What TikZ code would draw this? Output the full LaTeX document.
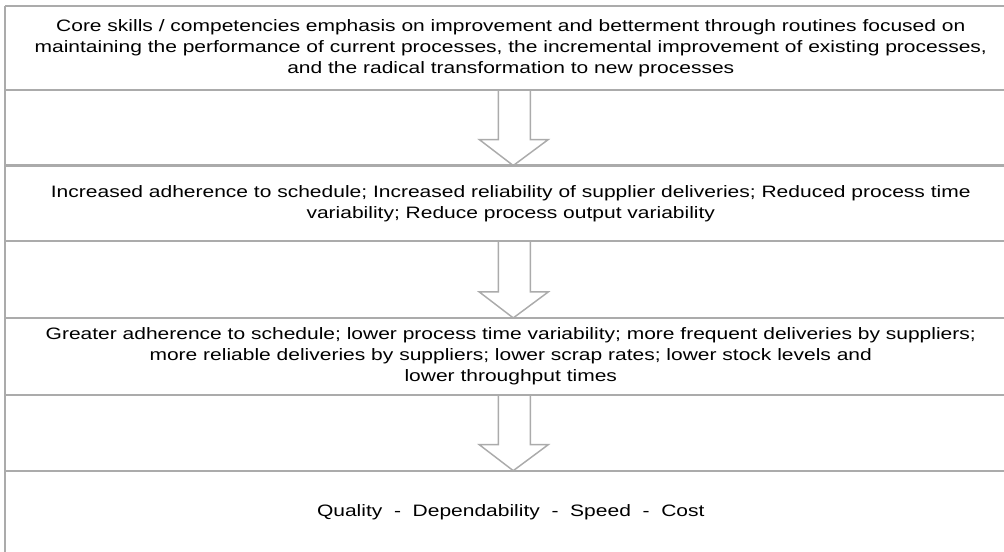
\documentclass[tikz,border=0pt]{standalone}
\usepackage{fontspec}
\setmainfont{Liberation Sans}[FakeStretch=1.27]
\usetikzlibrary{positioning,calc}

\definecolor{rulegray}{HTML}{ABABAB}

\begin{document}
\begin{tikzpicture}[
  x=0.75pt, y=0.75pt,
  node distance=0pt,
  band/.style={minimum width=758.25pt, minimum height=#1, inner sep=0pt, align=center, anchor=north west},
  rule/.style={draw=rulegray, line width=1.6pt},
  blockarrow/.style={draw=rulegray, line width=1.1pt},
  font=\fontsize{12.4}{15.75}\selectfont
]
  \useasboundingbox (0,0) rectangle (1004,-551);

  % text bands and the empty bands holding the arrows
  \node[band=62.6pt] (skills) at (5,-6) {Core skills / competencies emphasis on improvement and betterment through routines focused on\\maintaining the performance of current processes, the incremental improvement of existing processes,\\and the radical transformation to new processes};
  \node[band=56.25pt, below=of skills] (gap1) {};
  \node[band=56.25pt, below=of gap1] (outcomes) {Increased adherence to schedule; Increased reliability of supplier deliveries; Reduced process time\\variability; Reduce process output variability};
  \node[band=57.25pt, below=of outcomes] (gap2) {};
  \node[band=57.25pt, below=of gap2] (effects) {Greater adherence to schedule; lower process time variability; more frequent deliveries by suppliers;\\more reliable deliveries by suppliers; lower scrap rates; lower stock levels and\\lower throughput times};
  \node[band=56.5pt, below=of effects] (gap3) {};
  \node[band=62.6pt, below=of gap3] (priorities) {Quality\ \ -\ \ Dependability\ \ -\ \ Speed\ \ -\ \ Cost};

  % hollow down arrows
  \foreach \g in {gap1,gap2,gap3}
    \draw[blockarrow] ($(\g.north)+(-12.5,0)$) -- ($(\g.south)+(-12.5,26)$) -- ($(\g.south)+(-31.5,26)$)
      -- ($(\g.south)+(2.5,0)$) -- ($(\g.south)+(37.5,26)$) -- ($(\g.south)+(19.5,26)$) -- ($(\g.north)+(19.5,0)$);

  % rules
  \foreach \n in {skills,gap1,outcomes,gap2,effects,gap3,priorities}
    \draw[rule] (\n.north west) -- (\n.north east);
  \draw[rule] (skills.north west) -- (priorities.south west);
\end{tikzpicture}
\end{document}
